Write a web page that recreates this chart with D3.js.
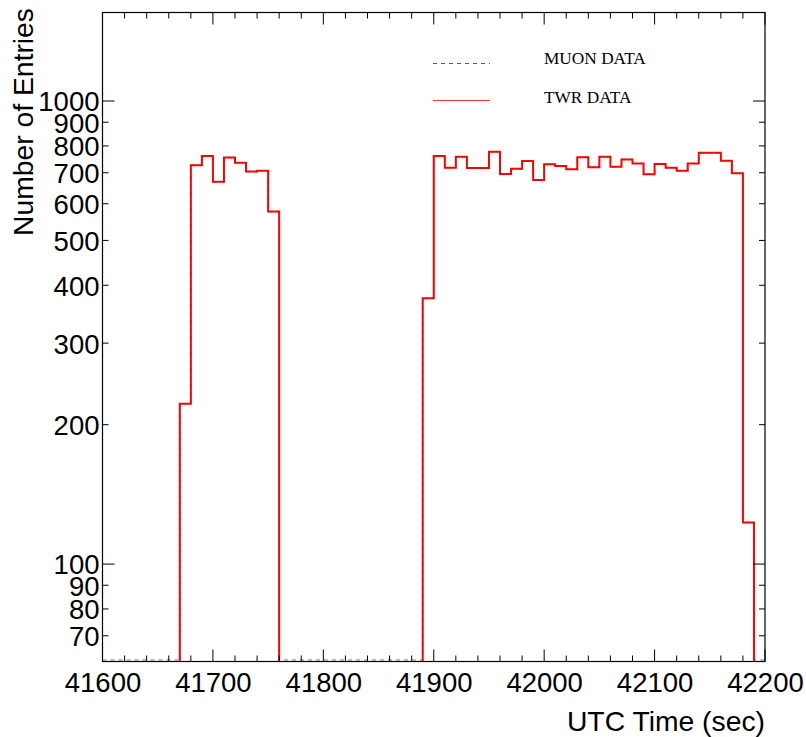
<!DOCTYPE html>
<html>
<head>
<meta charset="utf-8">
<script src="https://cdn.jsdelivr.net/npm/d3@7/dist/d3.min.js"></script>
<style>
  html, body { margin: 0; padding: 0; background: #fff; }
  svg { display: block; }
</style>
</head>
<body>
<svg id="chart" width="806" height="737"></svg>
<script>
// ---- data ----
const binStarts = [41600,41610,41620,41630,41640,41650,41660,41670,41680,41690,
  41700,41710,41720,41730,41740,41750,41760,41770,41780,41790,
  41800,41810,41820,41830,41840,41850,41860,41870,41880,41890,
  41900,41910,41920,41930,41940,41950,41960,41970,41980,41990,
  42000,42010,42020,42030,42040,42050,42060,42070,42080,42090,
  42100,42110,42120,42130,42140,42150,42160,42170,42180,42190];
const binWidth = 10;
const twrCounts = [0,0,0,0,0,0,0,222,727,761,
  669,755,736,704,707,577,0,0,0,0,
  0,0,0,0,0,0,0,0,0,375,
  761,718,758,717,717,777,696,714,742,675,
  730,724,712,756,719,758,721,748,733,695,
  731,718,707,733,773,773,743,698,123,0];
const muonCounts = [0,0,0,0,0,0,0,222,727,761,
  669,755,736,704,707,577,0,0,0,0,
  0,0,0,0,0,0,0,0,0,375,
  761,718,758,717,717,777,696,714,742,675,
  730,724,712,756,719,758,721,748,733,695,
  731,718,707,733,773,773,743,698,123,0];
const xDomain = [41600, 42200];
const yDomain = [61.6, 1553];
const xMajorTicks = [41600, 41700, 41800, 41900, 42000, 42100, 42200];
const yTickValues = [70, 80, 90, 100, 200, 300, 400, 500, 600, 700, 800, 900, 1000];
const yMajorTicks = [100, 1000];
const legendLabels = ["MUON DATA", "TWR DATA"];

// ---- layout ----
const L = 102.5, R = 765, T = 12.5, B = 661.5;
const svg = d3.select("#chart");
const x = d3.scaleLinear().domain(xDomain).range([L, R]);
const y = d3.scaleLog().domain(yDomain).range([B, T]);

const sans = "'Liberation Sans', Arial, Helvetica, sans-serif";
const serif = "'Liberation Serif', 'Times New Roman', serif";

// frame (drawn first, histogram lines over it)
svg.append("rect").attr("x", L).attr("y", T).attr("width", R - L).attr("height", B - T)
  .attr("fill", "none").attr("stroke", "#000").attr("stroke-width", 1.2);

svg.append("defs").append("clipPath").attr("id", "plotclip")
  .append("rect").attr("x", L).attr("y", T).attr("width", R - L).attr("height", B - T);

function yv(v, zeroY) { return v > 0 ? Math.min(B, y(v)) : zeroY; }

// full step path (zeros drawn along the bottom)
function fullStep(counts) {
  const pts = [];
  counts.forEach((c, i) => {
    const x0 = x(binStarts[i]), x1 = x(binStarts[i] + binWidth);
    pts.push([x0, yv(c, B - 1.5)], [x1, yv(c, B - 1.5)]);
  });
  return d3.line()(pts);
}
// step path only over non-zero runs
function runSteps(counts) {
  let d = "";
  let i = 0;
  while (i < counts.length) {
    if (counts[i] > 0) {
      const pts = [[x(binStarts[i]), B]];
      while (i < counts.length && counts[i] > 0) {
        pts.push([x(binStarts[i]), yv(counts[i], B)], [x(binStarts[i] + binWidth), yv(counts[i], B)]);
        i++;
      }
      pts.push([pts[pts.length - 1][0], B]);
      d += d3.line()(pts);
    } else i++;
  }
  return d;
}

const g = svg.append("g").attr("clip-path", "url(#plotclip)");
g.append("path").attr("d", fullStep(muonCounts))
  .attr("fill", "none").attr("stroke", "#777").attr("stroke-width", 1.2)
  .attr("stroke-dasharray", "4,4");
g.append("path").attr("d", runSteps(twrCounts))
  .attr("fill", "none").attr("stroke", "#ff0000").attr("stroke-width", 2);
g.append("path").attr("d", runSteps(muonCounts))
  .attr("fill", "none").attr("stroke", "#555").attr("stroke-width", 1)
  .attr("stroke-dasharray", "4,4").attr("opacity", 0.25);

// ---- ticks ----
const xMinor = d3.range(xDomain[0], xDomain[1] + 1, 20);
const ticks = svg.append("g").attr("stroke", "#000").attr("stroke-width", 1);
xMinor.forEach(v => {
  const len = xMajorTicks.includes(v) ? 12 : 6;
  const px = x(v);
  ticks.append("line").attr("x1", px).attr("x2", px).attr("y1", B).attr("y2", B - len);
  ticks.append("line").attr("x1", px).attr("x2", px).attr("y1", T).attr("y2", T + len);
});
yTickValues.forEach(v => {
  const len = yMajorTicks.includes(v) ? 12 : 6;
  const py = y(v);
  ticks.append("line").attr("x1", L).attr("x2", L + len).attr("y1", py).attr("y2", py);
  ticks.append("line").attr("x1", R).attr("x2", R - len).attr("y1", py).attr("y2", py);
});

// x axis labels via d3 axis (text only)
const xAxis = d3.axisBottom(x).tickValues(xMajorTicks).tickFormat(d3.format("d")).tickSize(0);
const xg = svg.append("g").attr("transform", `translate(0,${B})`).call(xAxis);
xg.select(".domain").remove();
xg.selectAll("text").attr("font-family", sans).attr("font-size", 27.5)
  .attr("fill", "#000").attr("dy", null).attr("y", 30);

const yAxis = d3.axisLeft(y).tickValues(yTickValues).tickFormat(d3.format("d")).tickSize(0);
const yg = svg.append("g").attr("transform", `translate(${L},0)`).call(yAxis);
yg.select(".domain").remove();
yg.selectAll("text").attr("font-family", sans).attr("font-size", 27.5)
  .attr("fill", "#000").attr("x", -3).attr("dy", "0.36em");

// axis titles
svg.append("text").attr("x", R).attr("y", 731).attr("text-anchor", "end")
  .attr("font-family", sans).attr("font-size", 28.3).attr("fill", "#000").text("UTC Time (sec)");
svg.append("text").attr("transform", "translate(33,8) rotate(-90)").attr("text-anchor", "end")
  .attr("font-family", sans).attr("font-size", 28.3).attr("fill", "#000").text("Number of Entries");

// legend
const lg = svg.append("g");
lg.append("line").attr("x1", 433).attr("x2", 490).attr("y1", 63.5).attr("y2", 63.5)
  .attr("stroke", "#555").attr("stroke-width", 1).attr("stroke-dasharray", "4,4");
lg.append("line").attr("x1", 433).attr("x2", 490).attr("y1", 100.5).attr("y2", 100.5)
  .attr("stroke", "#ff3333").attr("stroke-width", 1);
lg.append("text").attr("x", 544).attr("y", 64).attr("font-family", serif).attr("font-size", 17.3)
  .attr("fill", "#000").text(legendLabels[0]);
lg.append("text").attr("x", 544).attr("y", 103).attr("font-family", serif).attr("font-size", 17.3)
  .attr("fill", "#000").text(legendLabels[1]);
</script>
</body>
</html>
